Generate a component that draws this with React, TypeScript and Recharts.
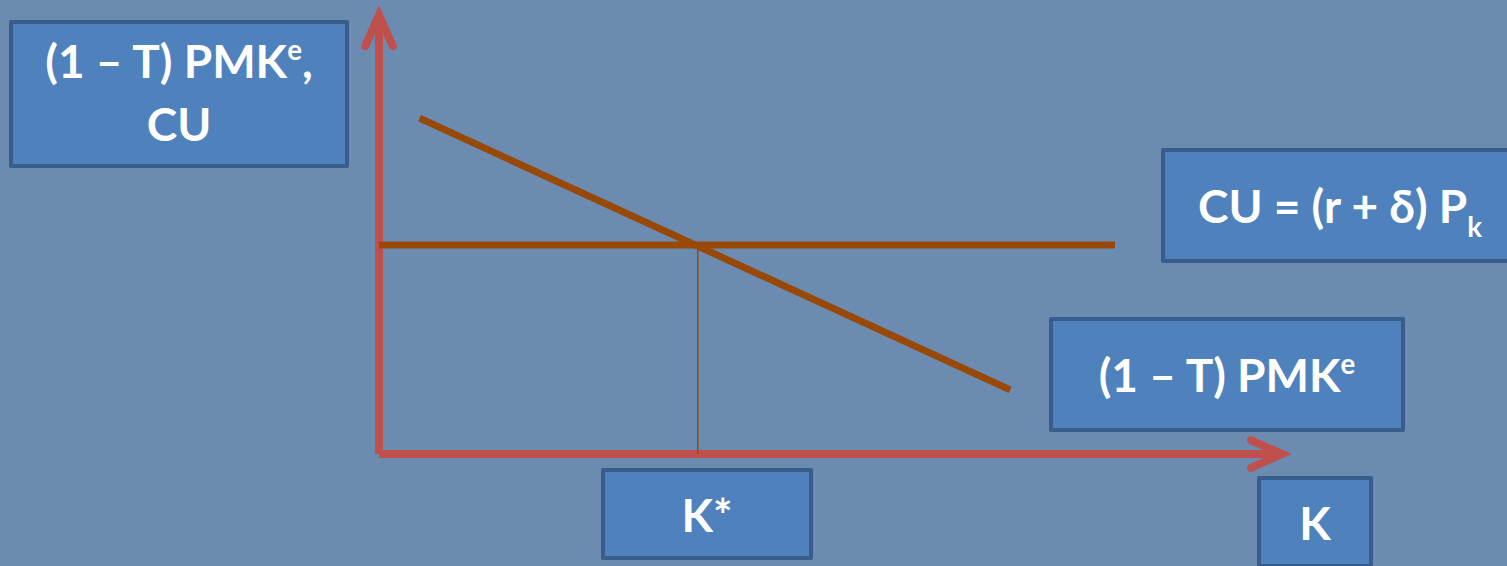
import React from 'react';
import { ComposedChart, Line, XAxis, YAxis, ReferenceLine } from 'recharts';

// K axis and value axis both run 0..100 (arrow tips)
const axisMax = 100;
const kStar = 35.3;
const cuLevel = 47.6;
const cuLine = [
  { k: 0, v: cuLevel },
  { k: 81.5, v: cuLevel },
];
const pmkLine = [
  { k: 4.5, v: 76.5 },
  { k: 69.9, v: 14.6 },
];
const dropLine = [
  { k: kStar, v: 0 },
  { k: kStar, v: cuLevel },
];

const RED = '#c0504d';
const BROWN = '#984807';
const BG = '#6c8bb0';
const FONT = 'Lato, "Open Sans", sans-serif';

const Arrow = (props: any) => {
  const { x1, y1, x2, y2 } = props;
  const ang = Math.atan2(y2 - y1, x2 - x1);
  const len = 34;
  const spread = (24 * Math.PI) / 180;
  const a1x = x2 - len * Math.cos(ang - spread);
  const a1y = y2 - len * Math.sin(ang - spread);
  const a2x = x2 - len * Math.cos(ang + spread);
  const a2y = y2 - len * Math.sin(ang + spread);
  return (
    <g>
      <line x1={x1} y1={y1} x2={x2} y2={y2} stroke={RED} strokeWidth={8} />
      <polyline
        points={`${a1x},${a1y} ${x2},${y2} ${a2x},${a2y}`}
        fill="none"
        stroke={RED}
        strokeWidth={8}
        strokeLinecap="round"
        strokeLinejoin="miter"
        strokeMiterlimit={10}
      />
    </g>
  );
};

function Box({ left, top, width, height, children, shift = 0 }: any) {
  return (
    <div
      style={{
        position: 'absolute',
        left,
        top,
        width,
        height,
        boxSizing: 'border-box',
        background: '#4f81bd',
        border: '4px solid #385d8a',
        borderRadius: 2,
        color: '#fff',
        fontFamily: FONT,
        fontWeight: 700,
        fontSize: 46,
        lineHeight: '63px',
        display: 'flex',
        flexDirection: 'column',
        alignItems: 'center',
        justifyContent: 'center',
        textAlign: 'center',
        whiteSpace: 'nowrap',
      }}
    >
      <div style={{ position: 'relative', top: shift }}>{children}</div>
    </div>
  );
}

const sup = { fontSize: '0.6em', verticalAlign: '0.66em', lineHeight: 0 };
const sub = { fontSize: '0.6em', verticalAlign: '-0.5em', lineHeight: 0 };

export default function App() {
  return (
    <div
      style={{
        position: 'absolute',
        left: 0,
        top: 0,
        width: 1507,
        height: 566,
        overflow: 'hidden',
        background: BG,
      }}
    >
      <ComposedChart
        width={1507}
        height={566}
        margin={{ top: 15, right: 225, bottom: 112, left: 379 }}
      >
        <XAxis type="number" dataKey="k" domain={[0, axisMax]} hide allowDataOverflow />
        <YAxis type="number" dataKey="v" domain={[0, axisMax]} hide allowDataOverflow />
        <ReferenceLine
          segment={[{ x: 0, y: 0 }, { x: axisMax, y: 0 }]}
          ifOverflow="visible"
          shape={Arrow}
        />
        <ReferenceLine
          segment={[{ x: 0, y: 0 }, { x: 0, y: axisMax }]}
          ifOverflow="visible"
          shape={Arrow}
        />
        <Line
          data={dropLine}
          dataKey="v"
          stroke={BROWN}
          strokeWidth={1.5}
          dot={false}
          isAnimationActive={false}
        />
        <Line
          data={cuLine}
          dataKey="v"
          stroke={BROWN}
          strokeWidth={7}
          strokeLinecap="butt"
          dot={false}
          isAnimationActive={false}
        />
        <Line
          data={pmkLine}
          dataKey="v"
          stroke={BROWN}
          strokeWidth={7}
          strokeLinecap="butt"
          dot={false}
          isAnimationActive={false}
        />
      </ComposedChart>

      <Box left={9} top={20} width={340} height={148} shift={-2}>
        <div>
          (1 – T) PMK<span style={sup}>e</span>,
        </div>
        <div>CU</div>
      </Box>
      <Box left={1161} top={148} width={358} height={115}>
        CU = (r + δ) P<span style={sub}>k</span>
      </Box>
      <Box left={1049} top={317} width={356} height={115}>
        (1 – T) PMK<span style={sup}>e</span>
      </Box>
      <Box left={601} top={468} width={212} height={92}>
        K*
      </Box>
      <Box left={1257} top={476} width={116} height={92}>
        K
      </Box>
    </div>
  );
}
